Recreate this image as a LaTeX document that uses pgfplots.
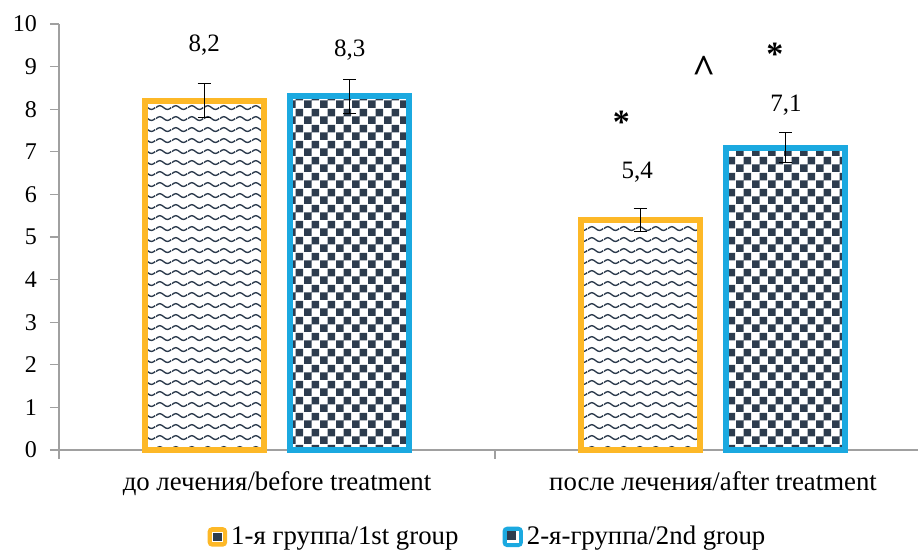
\documentclass[border=0pt]{standalone}
\usepackage{pgfplots}
\pgfplotsset{compat=1.18}
\usepackage{fontspec}
\setmainfont{Liberation Serif}
\usetikzlibrary{patterns}
\definecolor{cOrange}{HTML}{FDB827}
\definecolor{cBlue}{HTML}{1BA9E0}
\definecolor{cNavy}{HTML}{2D3C4E}
\definecolor{cAxis}{HTML}{A0A0A0}
\pgfdeclarepatternformonly{bigcheck}{\pgfpointorigin}{\pgfqpoint{8pt}{8pt}}{\pgfqpoint{8pt}{8pt}}{%
  \pgfpathrectangle{\pgfpointorigin}{\pgfqpoint{4pt}{4pt}}%
  \pgfpathrectangle{\pgfqpoint{4pt}{4pt}}{\pgfqpoint{4pt}{4pt}}%
  \pgfusepath{fill}}
\pgfdeclarepatternformonly{wavy}{\pgfqpoint{0pt}{0pt}}{\pgfqpoint{7.8pt}{5.7pt}}{\pgfqpoint{7.8pt}{5.7pt}}{%
  \pgfsetlinewidth{0.72pt}%
  \pgfpathmoveto{\pgfqpoint{0pt}{2.85pt}}%
  \pgfpathsine{\pgfqpoint{1.95pt}{1pt}}%
  \pgfpathcosine{\pgfqpoint{1.95pt}{-1pt}}%
  \pgfpathsine{\pgfqpoint{1.95pt}{-1pt}}%
  \pgfpathcosine{\pgfqpoint{1.95pt}{1pt}}%
  \pgfusepath{stroke}}
\begin{document}
\begin{tikzpicture}
\begin{axis}[
  scale only axis,
  width=429.5pt, height=213pt,
  xmin=-0.5, xmax=1.47,
  ymin=0, ymax=10,
  ytick={0,1,...,10},
  xtick={-0.5,0.5},
  xticklabels={},
  extra x ticks={0,1},
  extra x tick labels={до лечения/before treatment, после лечения/after treatment},
  extra x tick style={major tick length=0pt, tick style={draw=none},
     xticklabel style={font=\fontsize{13.4}{15}\selectfont, text=black, yshift=-7.5pt}},
  axis x line*=bottom,
  axis y line*=left,
  axis line style={cAxis, line width=0.6pt, -},
  tick align=outside,
  major tick length=4.5pt,
  tick style={cAxis, line width=0.6pt},
  /pgf/number format/assume math mode=true,
  tick label style={font=\fontsize{12}{14}\selectfont, text=black},
  yticklabel style={xshift=-3pt},
  legend style={at={(0.5,-0.204)}, anchor=center, draw=none, legend columns=2,
     font=\fontsize{13.4}{15}\selectfont,
     /tikz/every even column/.append style={column sep=20pt}},
  legend cell align=left,
  clip=false,
]
\addplot+[ybar, bar width=59.5pt, bar shift=0pt, draw=cOrange, line width=3pt,
   pattern=wavy, pattern color=cNavy, mark=none,
   legend image code/.code={%
     \fill[cOrange, rounded corners=1pt] (0pt,-3.4pt) rectangle (6.8pt,3.4pt);
     \fill[white] (2.3pt,-1.1pt) rectangle (4.5pt,1.1pt);
     \fill[cNavy] (2.8pt,-0.6pt) rectangle (4.0pt,0.3pt);},
   error bars/.cd, y dir=both, y explicit,
   error bar style={black, line width=0.5pt},
   error mark options={rotate=90, black, mark size=3.25pt, line width=0.5pt}]
  coordinates {(-0.167,8.2) +- (0,0.4) (0.833,5.4) +- (0,0.28)};
\addlegendentry{1-я группа/1st group}
\addplot+[ybar, bar width=59.5pt, bar shift=0pt, draw=cBlue, line width=3pt,
   pattern=bigcheck, pattern color=cNavy, mark=none,
   legend image code/.code={%
     \fill[cBlue, rounded corners=1pt] (0pt,-3.6pt) rectangle (7.2pt,3.6pt);
     \fill[white] (2.2pt,-1.4pt) rectangle (5pt,1.4pt);
     \fill[cNavy] (2.2pt,-0.2pt) rectangle (3.8pt,1.4pt);},
   error bars/.cd, y dir=both, y explicit,
   error bar style={black, line width=0.5pt},
   error mark options={rotate=90, black, mark size=3.25pt, line width=0.5pt}]
  coordinates {(0.167,8.3) +- (0,0.4) (1.167,7.1) +- (0,0.36)};
\addlegendentry{2-я-группа/2nd group}
\node[font=\fontsize{12.5}{14}\selectfont] at (axis cs:-0.167,9.5) {8,2};
\node[font=\fontsize{12.5}{14}\selectfont] at (axis cs:0.167,9.39) {8,3};
\node[font=\fontsize{12.5}{14}\selectfont] at (axis cs:0.826,6.53) {5,4};
\node[font=\fontsize{12.5}{14}\selectfont] at (axis cs:1.167,8.1) {7,1};
\node[font=\fontsize{17}{19}\selectfont\bfseries] at (axis cs:0.79,7.7) {*};
\node[font=\fontsize{17}{19}\selectfont\bfseries] at (axis cs:1.142,9.3) {*};
\node[font=\fontsize{20}{22}\selectfont\bfseries] at (axis cs:0.98,8.94) {\textasciicircum};
\path ([xshift=-29.5pt,yshift=12pt]rel axis cs:0,1) ([xshift=2pt]rel axis cs:1,1);
\end{axis}
\end{tikzpicture}
\end{document}
